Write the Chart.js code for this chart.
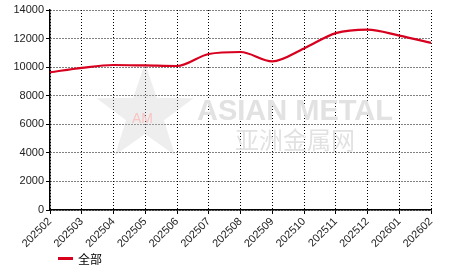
<!DOCTYPE html>
<html lang="zh">
<head>
<meta charset="UTF-8">
<title>全部</title>
<script src="https://cdn.jsdelivr.net/npm/chart.js"></script>
<style>
    body { margin: 0; padding: 0; background: #FFF; }
    .caixa { width: 466px; height: 272px; }
</style>
</head>
<body>
<div class="caixa"><canvas id="grafico"></canvas></div>
<script>
    // dados
    const meses = ['202502', '202503', '202504', '202505', '202506', '202507', '202508',
        '202509', '202510', '202511', '202512', '202601', '202602'];
    const valores = [9640, 9950, 10150, 10120, 10080, 10920, 11060, 10410, 11310, 12380, 12630, 12210, 11700];
    const nomeSerie = '全部';
    const yMin = 0, yMax = 14000, yPasso = 2000;

    const fonte = { family: 'Liberation Sans, Arial, sans-serif', size: 11 };
    const corLinha = '#d7001e';

    // marca d'agua
    const marcaDagua = {
        id: 'marcaDagua',
        beforeDatasetsDraw(chart) {
            const ctx = chart.ctx;
            ctx.save();
            ctx.textBaseline = 'alphabetic';
            ctx.textAlign = 'left';
            // estrela
            const cx = 145, cy = 114, rExt = 51, rInt = 20;
            ctx.beginPath();
            for (let i = 0; i < 10; i++) {
                const r = i % 2 === 0 ? rExt : rInt;
                const a = -Math.PI / 2 + i * Math.PI / 5;
                const px = cx + r * Math.cos(a), py = cy + r * Math.sin(a);
                if (i === 0) ctx.moveTo(px, py); else ctx.lineTo(px, py);
            }
            ctx.closePath();
            ctx.fillStyle = 'rgba(200,200,200,0.3)';
            ctx.fill();
            ctx.fillStyle = '#e2e2e2';
            ctx.font = 'bold 29px Liberation Sans, Arial, sans-serif';
            ctx.fillText('ASIAN METAL', 197, 120);
            ctx.font = '24px Noto Sans CJK SC';
            ctx.fillText('亚洲金属网', 235, 149);
            ctx.fillStyle = '#f8c4c4';
            ctx.font = '14px Liberation Sans, Arial, sans-serif';
            ctx.fillText('AM', 132, 123);
            ctx.restore();
        }
    };

    // legenda desenhada embaixo
    const legenda = {
        id: 'legenda',
        afterDraw(chart) {
            const ctx = chart.ctx;
            const ds = chart.data.datasets[0];
            ctx.save();
            ctx.strokeStyle = ds.borderColor;
            ctx.lineWidth = 3;
            ctx.beginPath();
            ctx.moveTo(58, 258.5);
            ctx.lineTo(73, 258.5);
            ctx.stroke();
            ctx.fillStyle = '#000';
            ctx.font = '12px Noto Sans CJK SC';
            ctx.textBaseline = 'middle';
            ctx.textAlign = 'left';
            ctx.fillText(ds.label, 78, 259);
            ctx.restore();
        }
    };

    new Chart(document.getElementById('grafico'), {
        type: 'line',
        data: {
            labels: meses,
            datasets: [{
                label: nomeSerie,
                data: valores,
                borderColor: corLinha,
                backgroundColor: corLinha,
                borderWidth: 2.2,
                pointRadius: 0,
                cubicInterpolationMode: 'monotone'
            }]
        },
        options: {
            responsive: true,
            maintainAspectRatio: false,
            animation: false,
            layout: { padding: { top: 10, right: 35, left: 0, bottom: 0 } },
            scales: {
                x: {
                    offset: false,
                    grid: { color: '#000', lineWidth: 1, tickLength: 4, tickColor: '#000' },
                    border: { color: '#000', width: 1.5, dash: [1, 2] },
                    ticks: { color: '#222', font: fonte, maxRotation: 45, minRotation: 45, autoSkip: false, padding: 1 },
                    afterFit(escala) { escala.height = 62; }
                },
                y: {
                    min: yMin,
                    max: yMax,
                    grid: { color: '#000', lineWidth: 1, tickLength: 4, tickColor: '#000' },
                    border: { color: '#000', width: 1.5, dash: [1, 2] },
                    ticks: {
                        stepSize: yPasso, color: '#222', font: fonte, padding: 2,
                        callback: (v) => String(v)
                    },
                    afterFit(escala) { escala.width = 50; }
                }
            },
            plugins: {
                legend: { display: false },
                tooltip: { enabled: false }
            }
        },
        plugins: [marcaDagua, legenda]
    });
</script>
</body>
</html>
